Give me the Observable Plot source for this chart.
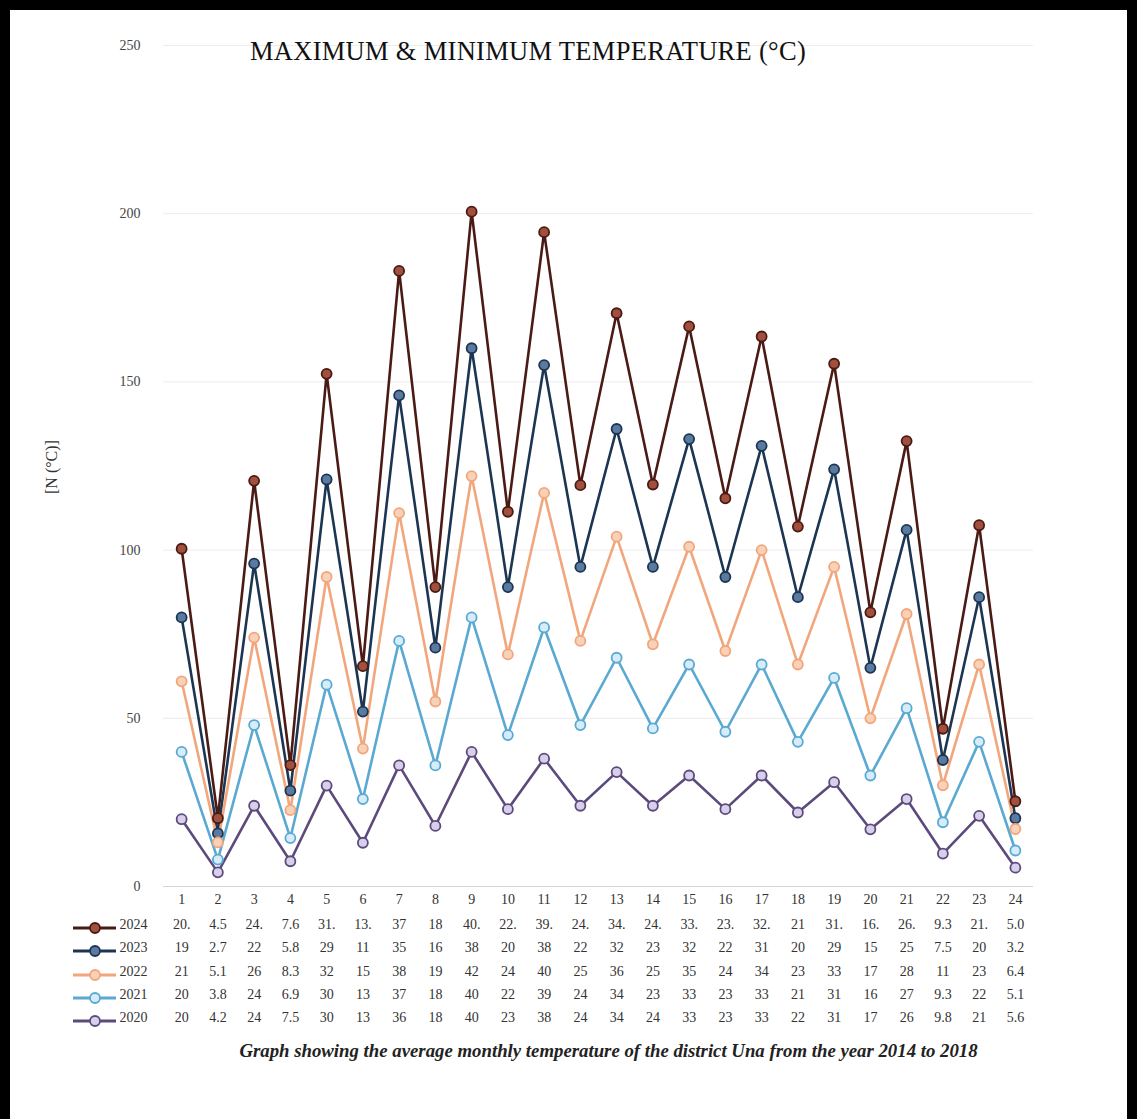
<!DOCTYPE html>
<html><head><meta charset="utf-8">
<script src="https://cdn.jsdelivr.net/npm/d3@7"></script>
<script src="https://cdn.jsdelivr.net/npm/@observablehq/plot@0.6"></script>
<style>
html,body{margin:0;padding:0;background:#fff;}
#page{position:relative;width:1137px;height:1119px;overflow:hidden;background:#fff;}
#chart{position:absolute;left:0;top:0;}
#keys{position:absolute;left:0;top:0;}
#frame{position:absolute;left:0;top:0;width:1137px;height:1119px;box-sizing:border-box;border:10px solid #000;border-bottom:none;pointer-events:none;}
#title{position:absolute;top:36px;left:0;width:1056px;text-align:center;font-family:"Liberation Serif",serif;font-size:26.5px;color:#111;letter-spacing:0.3px;}
#caption{position:absolute;top:1040px;left:0;width:1217px;text-align:center;font-family:"Liberation Serif",serif;font-style:italic;font-weight:bold;font-size:18.8px;color:#222;}
</style>
</head><body>
<div id="page">
  <div id="chart"></div>
  <svg id="keys" width="1137" height="1119"></svg>
  <div id="title">MAXIMUM &amp; MINIMUM TEMPERATURE (°C)</div>
  <div id="caption">Graph showing the average monthly temperature of the district Una from the year 2014 to 2018</div>
  <div id="frame"></div>
</div>
<script>
const months = [1,2,3,4,5,6,7,8,9,10,11,12,13,14,15,16,17,18,19,20,21,22,23,24];
const series = ["2024","2023","2022","2021","2020"];
const stackOrder = ["2020","2021","2022","2023","2024"];
const v2024 = [20.4,4.5,24.6,7.6,31.4,13.5,37,18,40.6,22.4,39.5,24.3,34.4,24.5,33.5,23.4,32.5,21,31.4,16.5,26.4,9.3,21.4,5.04];
const v2023 = [19,2.7,22,5.8,29,11,35,16,38,20,38,22,32,23,32,22,31,20,29,15,25,7.5,20,3.2];
const v2022 = [21,5.1,26,8.3,32,15,38,19,42,24,40,25,36,25,35,24,34,23,33,17,28,11,23,6.4];
const v2021 = [20,3.8,24,6.9,30,13,37,18,40,22,39,24,34,23,33,23,33,21,31,16,27,9.3,22,5.1];
const v2020 = [20,4.2,24,7.5,30,13,36,18,40,23,38,24,34,24,33,23,33,22,31,17,26,9.8,21,5.6];
const yTicks = [0,50,100,150,200,250];
const yLabel = "[N (°C)]";

const values = {"2024": v2024, "2023": v2023, "2022": v2022, "2021": v2021, "2020": v2020};
const lineColor = {"2024":"#4a1a14","2023":"#1b3552","2022":"#f2a67c","2021":"#5aa9d2","2020":"#5d4a7c"};
const dotFill = {"2024":"#a0503c","2023":"#5a7aa0","2022":"#f8d2b8","2021":"#d6ecf8","2020":"#d8d0ea"};

const data = [];
for (const s of series) months.forEach((m, i) => data.push({series: s, month: m, value: values[s][i]}));

const fmt = v => v < 10 ? v.toFixed(1) : (Number.isInteger(v) ? String(v) : Math.floor(v) + ".");

const rowDy = {"2024": 42, "2023": 65, "2022": 89, "2021": 112, "2020": 135};
const font = "Liberation Serif";

const marks = [
  Plot.gridY(yTicks.filter(d => d > 0), {stroke: "#ececec", strokeOpacity: 1}),
  Plot.ruleY([0], {stroke: "#d4d4d4"}),
  Plot.axisY(yTicks, {tickSize: 0, tickPadding: 23, fontSize: 14, fill: "#444", label: null}),
  Plot.text([yLabel], {text: d => d, frameAnchor: "left", dx: -112, dy: 28, rotate: -90, fontSize: 16, fill: "#333"}),
  Plot.line(data, Plot.stackY2({x: "month", y: "value", z: "series", order: stackOrder, stroke: d => lineColor[d.series], strokeWidth: 2.6})),
  Plot.dot(data, Plot.stackY2({x: "month", y: "value", z: "series", order: stackOrder, r: 5, stroke: d => lineColor[d.series], fill: d => dotFill[d.series], strokeWidth: 1.8})),
  Plot.text(months, {x: d => d, text: d => String(d), frameAnchor: "bottom", dy: 17, fill: "#333", fontSize: 14})
];
for (const s of series) {
  marks.push(Plot.text(data.filter(d => d.series === s), {x: "month", text: d => fmt(d.value), frameAnchor: "bottom", dy: rowDy[s], fill: "#333", fontSize: 14}));
  marks.push(Plot.text([s], {text: d => d, frameAnchor: "bottom-left", dx: -44, dy: rowDy[s], textAnchor: "start", fill: "#333", fontSize: 14}));
}

const chart = Plot.plot({
  width: 1137,
  height: 1040,
  marginTop: 45,
  marginBottom: 154,
  marginLeft: 163,
  marginRight: 104,
  style: {fontFamily: font, fontSize: "14px", color: "#444", background: "transparent"},
  x: {type: "linear", domain: [0.5, 24.5], axis: null},
  y: {domain: [0, 250], axis: null},
  color: {type: "identity"},
  marks
});
document.getElementById("chart").appendChild(chart);

// legend keys for the data table rows
const keys = d3.select("#keys");
for (const s of series) {
  const y = 886 + rowDy[s];
  keys.append("line").attr("x1", 73).attr("x2", 116).attr("y1", y).attr("y2", y)
    .attr("stroke", lineColor[s]).attr("stroke-width", 3);
  keys.append("circle").attr("cx", 95).attr("cy", y).attr("r", 5)
    .attr("stroke", lineColor[s]).attr("fill", dotFill[s]).attr("stroke-width", 1.8);
}
</script>
</body></html>
